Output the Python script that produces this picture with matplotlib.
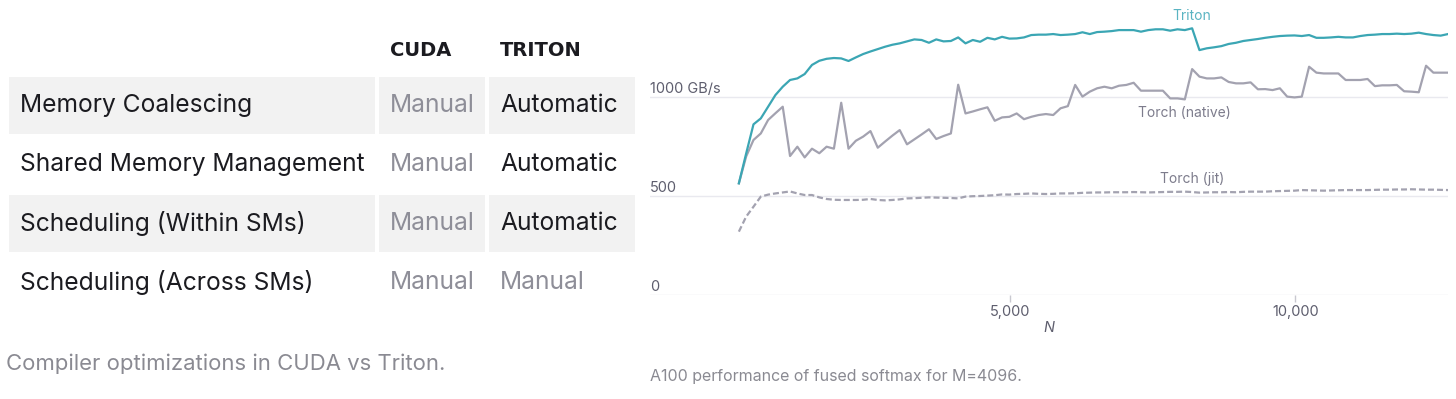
import numpy as np
import matplotlib
matplotlib.use('Agg')
import matplotlib.pyplot as plt
from matplotlib.patches import Rectangle

plt.rcParams['font.family'] = ['Inter', 'DejaVu Sans']

# table data
features = ['Memory Coalescing', 'Shared Memory Management',
            'Scheduling (Within SMs)', 'Scheduling (Across SMs)']
cuda_col = ['Manual', 'Manual', 'Manual', 'Manual']
triton_col = ['Automatic', 'Automatic', 'Automatic', 'Manual']
headers = ['CUDA', 'TRITON']

# chart data: N = 128 * i, i = 2..99
N = [128 * i for i in range(2, 100)]
triton = [564, 715, 862, 892, 951, 1010, 1052, 1086, 1094, 1116,
          1162, 1183, 1193, 1197, 1195, 1182, 1200, 1217, 1230, 1242,
          1254, 1264, 1271, 1281, 1291, 1288, 1274, 1291, 1281, 1283,
          1301, 1271, 1288, 1279, 1299, 1291, 1304, 1295, 1296, 1301,
          1313, 1315, 1315, 1318, 1313, 1315, 1318, 1327, 1318, 1328,
          1330, 1333, 1338, 1338, 1338, 1330, 1338, 1342, 1342, 1335,
          1342, 1338, 1347, 1237, 1246, 1251, 1257, 1268, 1274, 1283,
          1288, 1293, 1299, 1304, 1308, 1310, 1311, 1308, 1313, 1299,
          1299, 1301, 1304, 1301, 1301, 1308, 1313, 1315, 1318, 1318,
          1320, 1318, 1320, 1325, 1318, 1313, 1310, 1318]
torch_native = [564, 700, 783, 816, 884, 918, 951, 702, 749, 695,
                739, 716, 749, 739, 971, 739, 779, 800, 828, 744,
                775, 805, 833, 761, 786, 811, 837, 788, 803, 816,
                1062, 917, 927, 938, 948, 880, 897, 900, 917, 888,
                900, 909, 914, 909, 943, 954, 1061, 1002, 1027, 1044,
                1052, 1044, 1057, 1061, 1072, 1032, 1032, 1032, 1032, 993,
                993, 988, 1141, 1103, 1094, 1094, 1099, 1076, 1069, 1069,
                1074, 1039, 1040, 1035, 1044, 1002, 998, 1002, 1153, 1123,
                1119, 1119, 1119, 1086, 1086, 1086, 1091, 1055, 1059, 1059,
                1061, 1029, 1027, 1024, 1158, 1123, 1123, 1123]
torch_jit = [320, 396, 446, 497, 507, 513, 518, 523, 513, 505,
             505, 493, 485, 481, 480, 480, 480, 481, 485, 480,
             478, 480, 483, 488, 489, 491, 493, 492, 491, 490,
             488, 497, 499, 500, 502, 504, 508, 507, 510, 511,
             513, 511, 510, 511, 513, 513, 514, 516, 517, 518,
             518, 519, 519, 519, 520, 519, 518, 519, 520, 521,
             521, 522, 520, 517, 518, 519, 519, 520, 519, 521,
             522, 522, 522, 524, 525, 526, 527, 530, 529, 528,
             527, 528, 529, 530, 530, 530, 530, 531, 532, 532,
             533, 533, 534, 533, 532, 532, 531, 530]
y_ticks = [0, 500, 1000]
y_tick_labels = ['0', '500', '1000 GB/s']
x_ticks = [5000, 10000]
x_tick_labels = ['5,000', '10,000']

W, H = 1456, 399
fig = plt.figure(figsize=(W / 100, H / 100), dpi=100)

# ---- left: table drawn in pixel coordinates
tab = fig.add_axes([0, 0, 1, 1])
tab.set_xlim(0, W)
tab.set_ylim(H, 0)
tab.axis('off')

col_x = [(9, 375), (379, 485), (489, 635)]
row_top0, row_h, row_step = 77, 57, 59
dark = '#1b1b20'
muted = '#8e8e98'
body_fs = 17.7
for j, h in enumerate(headers):
    tab.text(col_x[j + 1][0] + 11, 50, h, family='DejaVu Sans',
             fontweight='bold', fontsize=14, color=dark, va='center')
for r in range(len(features)):
    top = row_top0 + r * row_step
    yc = top + row_h / 2
    if r % 2 == 0:
        for x0, x1 in col_x:
            tab.add_patch(Rectangle((x0, top), x1 - x0, row_h,
                                    facecolor='#f2f2f2', edgecolor='none'))
    tab.text(20, yc, features[r], fontsize=body_fs, color=dark, va='center')
    tab.text(390, yc, cuda_col[r], fontsize=body_fs, color=muted, va='center')
    tab.text(500, yc, triton_col[r], fontsize=body_fs,
             color=muted if triton_col[r] == 'Manual' else dark, va='center')

tab.text(6, 364, 'Compiler optimizations in CUDA vs Triton.', fontsize=15.9,
         color='#8a8a92', va='center')
tab.text(650, 377, 'A100 performance of fused softmax for M=4096.',
         fontsize=11.5, color='#8a8a92', va='center')

# ---- right: line chart
ax = fig.add_axes([650 / W, 1 - 295 / H, (1448 - 650) / W, 295 / H])
ax.patch.set_alpha(0)
ax.set_xlim(-1300, 12672)
ax.set_ylim(0, 1490)
for s in ax.spines.values():
    s.set_visible(False)
for v in y_ticks:
    ax.axhline(v, color='#e9e9ef', lw=1, zorder=0)

teal = '#3ba6b4'
gray = '#a3a2b0'
ax.plot(N, triton, color=teal, lw=1.6, zorder=3)
ax.plot(N, torch_native, color=gray, lw=1.6, zorder=2)
ax.plot(N, torch_jit, color=gray, lw=1.6, dashes=(2.7, 1.35), zorder=2)

ax.set_yticks([])
for v, lab in zip(y_ticks, y_tick_labels):
    ax.text(0, v + 5, lab, transform=ax.get_yaxis_transform(),
            fontsize=10.5, color='#5e5e6e', va='bottom', ha='left')

ax.set_xticks(x_ticks)
ax.set_xticklabels(x_tick_labels)
ax.tick_params(axis='x', length=5, width=1, color='#c8c8d0', pad=2,
               labelsize=10.5, labelcolor='#5e5e6e')
ax.set_xlabel('N', fontstyle='italic', fontsize=10.5, color='#5e5e6e',
              labelpad=2)

ax.text(8192, 1410, 'Triton', color='#5ab4c2', fontsize=10, ha='center',
        va='center')
ax.text(8050, 921, 'Torch (native)', color='#7d7c8c', fontsize=10,
        ha='center', va='center')
ax.text(8192, 584, 'Torch (jit)', color='#7d7c8c', fontsize=10,
        ha='center', va='center')

fig.savefig('out.png', dpi=100)
